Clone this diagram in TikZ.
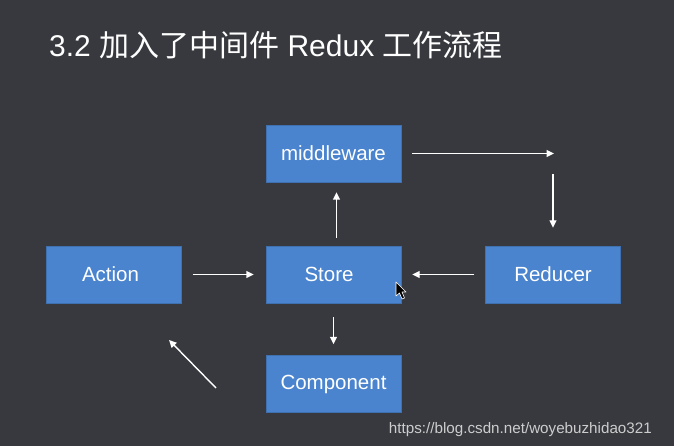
\documentclass[tikz,border=0pt]{standalone}
\usepackage{fontspec}
\setmainfont{Liberation Sans}
\newfontfamily\cjk{Noto Sans CJK SC}
\usetikzlibrary{arrows.meta}
\definecolor{bgc}{RGB}{55,57,62}
\definecolor{boxc}{RGB}{74,132,206}
\definecolor{wmc}{RGB}{205,205,205}
\tikzset{
  box/.style={fill=boxc, draw=boxc!85!black, line width=0.4pt, minimum width=135pt, minimum height=57pt,
    inner sep=0pt, text=white, font=\fontsize{20.5}{24}\selectfont},
  flow/.style={draw=white, line width=1.4pt, -{Triangle[length=7.5pt,width=7pt]}}
}
\begin{document}
\begin{tikzpicture}[x=1pt,y=-1pt]
\fill[bgc] (0,0) rectangle (674,446);
\useasboundingbox (0,0) rectangle (674,446);
\node[anchor=base west, text=white, inner sep=0pt, font=\fontsize{30}{34}\selectfont] (title) at (49,57)
  {3.2 {\cjk 加入了中间件} Redux {\cjk 工作流程}};
\node[box] (action) at (114,274.5) {Action\hspace*{7pt}};
\node[box] (store) at (333.5,274.5) {Store\hspace*{9pt}};
\node[box] (mw) at (333.5,153.5) {middleware};
\node[box] (reducer) at (553,274.5) {Reducer};
\node[box] (comp) at (333.5,384) {Component};
\coordinate (c1) at (554,153.5);
\coordinate (c2) at (553,174);
\coordinate (d1) at (216,388);
\coordinate (d2) at (169,340);
\draw[flow, shorten <=11pt, shorten >=12pt] (action) -- (store);
\draw[flow, shorten <=8pt, shorten >=10pt] ([xshift=3pt]store.north) -- ([xshift=3pt]mw.south);
\draw[flow, shorten <=11pt] (mw.east) -- (c1);
\draw[flow, shorten >=18pt] (c2) -- (reducer.north);
\draw[flow, shorten <=11pt, shorten >=11pt] (reducer.west) -- (store.east);
\draw[flow, shorten <=14pt, shorten >=11pt] (store.south) -- (comp.north);
\draw[flow] (d1) -- (d2);
\node[anchor=base east, text=wmc, inner sep=0pt, font=\fontsize{15.2}{18}\selectfont] (wm) at (652,433) {https://blog.csdn.net/woyebuzhidao321};
\filldraw[fill=black, draw=white, line width=0.6pt, line join=round]
  (396,282) -- (396,296) -- (399.5,293) -- (402,299) -- (404.5,298) -- (402,292) -- (406,292) -- cycle;
\end{tikzpicture}
\end{document}
